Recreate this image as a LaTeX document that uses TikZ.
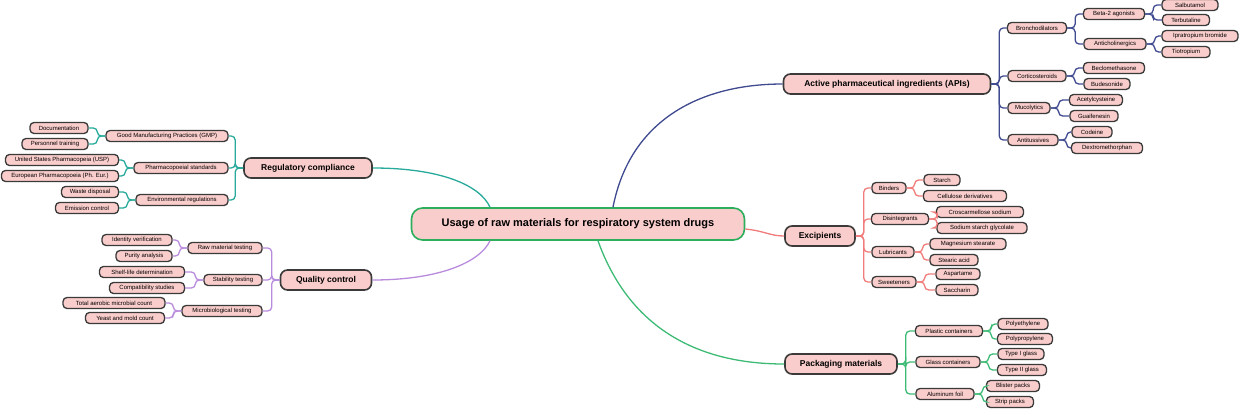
\documentclass[tikz,border=0pt]{standalone}
\usepackage{fontspec}
\setmainfont{Liberation Sans}
\usetikzlibrary{calc}
\definecolor{fillp}{HTML}{F9CDCB}
\definecolor{bord}{HTML}{3A3A3A}
\definecolor{capi}{HTML}{3F4A8F}
\definecolor{cexc}{HTML}{F07C7C}
\definecolor{cpack}{HTML}{3DBB75}
\definecolor{creg}{HTML}{27A99B}
\definecolor{cqual}{HTML}{B88BDC}
\definecolor{ccen}{HTML}{2DAE5C}
\tikzset{
 leaf/.style={draw=bord,line width=1.3pt,fill=fillp,rounded corners=4pt,minimum height=11pt,inner sep=0pt,font=\fontsize{6}{7}\selectfont},
 mainn/.style={draw=bord,line width=1.6pt,fill=fillp,rounded corners=7pt,minimum height=20pt,inner sep=0pt,font=\fontsize{8.5}{10}\selectfont\bfseries},
 cen/.style={draw=ccen,line width=1.6pt,fill=fillp,rounded corners=11pt,minimum height=32pt,minimum width=333pt,inner sep=0pt,font=\fontsize{11}{13}\selectfont\bfseries},
 conn/.style={line width=1.3pt,rounded corners=4pt},
}
\newcommand\lf[5]{\node[leaf,minimum width=#4pt] (#1) at (#2,#3) {#5};}
\newcommand\mn[5]{\node[mainn,minimum width=#4pt] (#1) at (#2,#3) {#5};}
\begin{document}
\begin{tikzpicture}[x=1pt,y=-1pt]
\useasboundingbox (0,0) rectangle (1240,408);
\node[cen] (c) at (578,224) {Usage of raw materials for respiratory system drugs};
\mn{api}{887}{84}{207}{Active pharmaceutical ingredients (APIs)}
\mn{exc}{820}{236}{70}{Excipients}
\mn{pack}{841}{364}{112}{Packaging materials}
\mn{reg}{308}{168}{128}{Regulatory compliance}
\mn{qual}{326}{280}{91}{Quality control}
% APIs
\lf{bron}{1037}{28}{59}{Bronchodilators}
\lf{beta}{1114}{14}{61}{Beta-2 agonists}
\lf{salb}{1190}{5}{56}{Salbutamol}
\lf{terb}{1186}{20}{47}{Terbutaline}
\lf{anti}{1115}{44}{62}{Anticholinergics}
\lf{ipra}{1200}{36}{76}{Ipratropium bromide}
\lf{tiot}{1186}{52}{48}{Tiotropium}
\lf{cort}{1037}{76}{58}{Corticosteroids}
\lf{becl}{1114}{68}{61}{Beclomethasone}
\lf{bude}{1107}{84}{46}{Budesonide}
\lf{muco}{1029}{108}{42}{Mucolytics}
\lf{acet}{1096}{100}{53}{Acetylcysteine}
\lf{guai}{1094}{116}{48}{Guaifenesin}
\lf{antt}{1033}{140}{50}{Antitussives}
\lf{code}{1092}{132}{40}{Codeine}
\lf{dext}{1107}{148}{71}{Dextromethorphan}
% Excipients
\lf{bind}{889}{188}{34}{Binders}
\lf{star}{942}{180}{36}{Starch}
\lf{cell}{965}{196}{83}{Cellulose derivatives}
\lf{disi}{900}{219}{57}{Disintegrants}
\lf{cros}{980}{212}{87}{Croscarmellose sodium}
\lf{sodi}{982}{228}{90}{Sodium starch glycolate}
\lf{lubr}{893}{252}{42}{Lubricants}
\lf{magn}{968}{244}{76}{Magnesium stearate}
\lf{stea}{954}{260}{48}{Stearic acid}
\lf{swee}{894}{282}{44}{Sweeteners}
\lf{aspa}{958}{274}{44}{Aspartame}
\lf{sacc}{957}{290}{42}{Saccharin}
% Packaging
\lf{plas}{949}{331}{67}{Plastic containers}
\lf{poly}{1023}{324}{50}{Polyethylene}
\lf{polp}{1025}{339}{55}{Polypropylene}
\lf{glas}{948}{362}{64}{Glass containers}
\lf{typ1}{1021}{354}{46}{Type I glass}
\lf{typ2}{1022}{370}{49}{Type II glass}
\lf{alum}{945}{394}{58}{Aluminum foil}
\lf{blis}{1013}{386}{53}{Blister packs}
\lf{stri}{1010}{402}{47}{Strip packs}
% Regulatory
\lf{gmp}{167}{136}{122}{Good Manufacturing Practices (GMP)}
\lf{docu}{59}{128}{58}{Documentation}
\lf{pers}{55}{144}{66}{Personnel training}
\lf{phst}{181}{168}{94}{Pharmacopoeial standards}
\lf{usp}{62}{160}{113}{United States Pharmacopeia (USP)}
\lf{peur}{60}{176}{117}{European Pharmacopoeia (Ph. Eur.)}
\lf{envr}{182}{200}{92}{Environmental regulations}
\lf{wast}{90}{192}{57}{Waste disposal}
\lf{emis}{87}{208}{63}{Emission control}
% Quality
\lf{rawm}{225}{248}{74}{Raw material testing}
\lf{iden}{137}{240}{70}{Identity verification}
\lf{puri}{144}{256}{56}{Purity analysis}
\lf{stab}{233}{280}{58}{Stability testing}
\lf{shel}{142}{272}{85}{Shelf-life determination}
\lf{comp}{147}{288}{75}{Compatibility studies}
\lf{micr}{222}{311}{80}{Microbiological testing}
\lf{tota}{114}{303}{102}{Total aerobic microbial count}
\lf{yeas}{125}{318}{79}{Yeast and mold count}
% main connectors
\begin{scope}[on background layer/.style={}]
\end{scope}
\draw[capi,line width=1.3pt] ($(c.north)+(35,0)$) .. controls (630,120) and (700,84) .. (api.west);
\draw[cexc,line width=1.3pt] ($(c.east)+(0,5)$) .. controls (765,231) and (770,236) .. (exc.west);
\draw[cpack,line width=1.3pt] ($(c.south)+(20,0)$) .. controls (630,330) and (700,364) .. (pack.west);
\draw[creg,line width=1.3pt] (reg.east) .. controls (440,168) and (480,185) .. ($(c.north)+(-88,0)$);
\draw[cqual,line width=1.3pt] (qual.east) .. controls (440,280) and (480,262) .. ($(c.south)+(-88,0)$);
% child connectors right
\foreach \p/\q in {api/bron,api/cort,api/muco,api/antt,bron/beta,bron/anti,beta/salb,beta/terb,anti/ipra,anti/tiot,cort/becl,cort/bude,muco/acet,muco/guai,antt/code,antt/dext}
  \draw[conn,capi] (\p.east) -- ++(8,0) |- (\q.west);
\foreach \p/\q in {exc/bind,exc/disi,exc/lubr,exc/swee,bind/star,bind/cell,disi/cros,disi/sodi,lubr/magn,lubr/stea,swee/aspa,swee/sacc}
  \draw[conn,cexc] (\p.east) -- ++(8,0) |- (\q.west);
\foreach \p/\q in {pack/plas,pack/glas,pack/alum,plas/poly,plas/polp,glas/typ1,glas/typ2,alum/blis,alum/stri}
  \draw[conn,cpack] (\p.east) -- ++(8,0) |- (\q.west);
\foreach \p/\q in {reg/gmp,reg/phst,reg/envr,gmp/docu,gmp/pers,phst/usp,phst/peur,envr/wast,envr/emis}
  \draw[conn,creg] (\p.west) -- ++(-8,0) |- (\q.east);
\foreach \p/\q in {qual/rawm,qual/stab,qual/micr,rawm/iden,rawm/puri,stab/shel,stab/comp,micr/tota,micr/yeas}
  \draw[conn,cqual] (\p.west) -- ++(-8,0) |- (\q.east);
\end{tikzpicture}
\end{document}
